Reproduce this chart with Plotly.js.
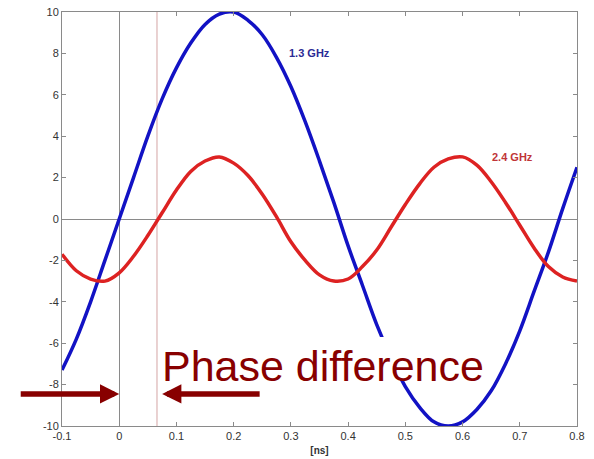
<!DOCTYPE html>
<html>
<head>
<meta charset="utf-8">
<script src="https://cdn.plot.ly/plotly-3.0.1.min.js"></script>
<style>
  html, body { margin: 0; padding: 0; background: #ffffff; }
  #chart { width: 594px; height: 459px; }
</style>
</head>
<body>
<div id="chart"></div>
<script>
// Time axis samples [ns]
const timeNs = [-0.1, -0.075, -0.05, -0.025, 0, 0.025, 0.05, 0.075, 0.1, 0.125, 0.15, 0.175,
  0.2, 0.225, 0.25, 0.275, 0.3, 0.325, 0.35, 0.375, 0.4, 0.425, 0.45, 0.475, 0.5, 0.525,
  0.55, 0.575, 0.6, 0.625, 0.65, 0.675, 0.7, 0.725, 0.75, 0.775, 0.8];

// 1.3 GHz signal
const wave13 = [-7.3, -5.8, -4.0, -2.0, 0.0, 2.0, 4.0, 5.8, 7.3, 8.5, 9.4, 9.9,
  10.0, 9.6, 8.9, 7.8, 6.4, 4.7, 2.8, 0.8, -1.3, -3.2, -5.1, -6.7, -8.1, -9.1,
  -9.8, -10.0, -9.8, -9.2, -8.3, -7.0, -5.4, -3.5, -1.6, 0.5, 2.5];

// 2.4 GHz signal
const wave24 = [-1.7, -2.5, -2.9, -3.0, -2.6, -1.8, -0.8, 0.3, 1.4, 2.3, 2.8, 3.0,
  2.7, 2.1, 1.2, 0.1, -1.1, -2.0, -2.7, -3.0, -2.9, -2.3, -1.5, -0.4, 0.7, 1.7,
  2.5, 2.9, 3.0, 2.6, 1.8, 0.8, -0.3, -1.4, -2.3, -2.8, -3.0];

// Rising zero crossings of the two signals
const zeroCross13 = 0.0;
const zeroCross24 = 0.066;

const xTicks = [-0.1, 0, 0.1, 0.2, 0.3, 0.4, 0.5, 0.6, 0.7, 0.8];
const xTickText = ['-0.1', '0', '0.1', '0.2', '0.3', '0.4', '0.5', '0.6', '0.7', '0.8'];
const yTicks = [-10, -8, -6, -4, -2, 0, 2, 4, 6, 8, 10];
const yTickText = ['-10', '-8', '-6', '-4', '-2', '0', '2', '4', '6', '8', '10'];

const labelFont = 'Liberation Sans, Arial, sans-serif';
const arrowColor = '#880000';

const traces = [
  {
    x: timeNs, y: wave13, type: 'scatter', mode: 'lines',
    line: { color: '#1212c4', width: 3.5, shape: 'spline', smoothing: 1 },
    hoverinfo: 'skip'
  },
  {
    x: timeNs, y: wave24, type: 'scatter', mode: 'lines',
    line: { color: '#dd2222', width: 3.5, shape: 'spline', smoothing: 1 },
    hoverinfo: 'skip'
  }
];

const axisCommon = {
  showgrid: false,
  showline: true,
  linecolor: '#8a8a8a',
  linewidth: 1,
  mirror: 'ticks',
  ticks: 'inside',
  ticklen: 4,
  tickcolor: '#8a8a8a',
  tickfont: { family: labelFont, size: 11, color: '#333333' },
  zeroline: true,
  zerolinecolor: '#8a8a8a',
  zerolinewidth: 1,
  fixedrange: true
};

const layout = {
  width: 594,
  height: 459,
  margin: { l: 62, r: 17, t: 12, b: 33 },
  paper_bgcolor: '#ffffff',
  plot_bgcolor: '#ffffff',
  showlegend: false,
  xaxis: Object.assign({}, axisCommon, {
    range: [-0.1, 0.8],
    tickmode: 'array', tickvals: xTicks, ticktext: xTickText,
    title: { text: '<b>[ns]</b>', font: { family: labelFont, size: 10, color: '#333333' }, standoff: 5 }
  }),
  yaxis: Object.assign({}, axisCommon, {
    range: [-10, 10],
    tickmode: 'array', tickvals: yTicks, ticktext: yTickText
  }),
  shapes: [
    {
      type: 'line', xref: 'x', yref: 'paper',
      x0: zeroCross24, x1: zeroCross24, y0: 0, y1: 1,
      line: { color: '#d4a4a4', width: 1 }, layer: 'below'
    },
    {
      // white backing behind the caption
      type: 'rect', xref: 'x', yref: 'y',
      x0: 0.069, x1: 0.636, y0: -7.75, y1: -5.7,
      fillcolor: '#ffffff', line: { width: 0 }, layer: 'above'
    }
  ],
  annotations: [
    {
      x: 0.333, y: 8.0, xref: 'x', yref: 'y', showarrow: false,
      text: '<b>1.3 GHz</b>',
      font: { family: labelFont, size: 11, color: '#2b2b95' }
    },
    {
      x: 0.687, y: 3.0, xref: 'x', yref: 'y', showarrow: false,
      text: '<b>2.4 GHz</b>',
      font: { family: labelFont, size: 11, color: '#c03538' }
    },
    {
      x: 0.071, y: -7.1, xref: 'x', yref: 'y', xanchor: 'left', yanchor: 'middle',
      showarrow: false,
      text: 'Phase difference',
      font: { family: labelFont, size: 43, color: arrowColor }
    },
    {
      x: zeroCross13, y: -8.45, xref: 'x', yref: 'y',
      text: '', showarrow: true,
      ax: -100, ay: 0,
      arrowhead: 2, arrowsize: 0.7, arrowwidth: 5.5, arrowcolor: arrowColor,
      standoff: 0, startstandoff: 0
    },
    {
      x: 0.075, y: -8.45, xref: 'x', yref: 'y',
      text: '', showarrow: true,
      ax: 99, ay: 0,
      arrowhead: 2, arrowsize: 0.7, arrowwidth: 5.5, arrowcolor: arrowColor,
      standoff: 0, startstandoff: 0
    }
  ]
};

Plotly.newPlot('chart', traces, layout, { staticPlot: true, displayModeBar: false });
</script>
</body>
</html>
